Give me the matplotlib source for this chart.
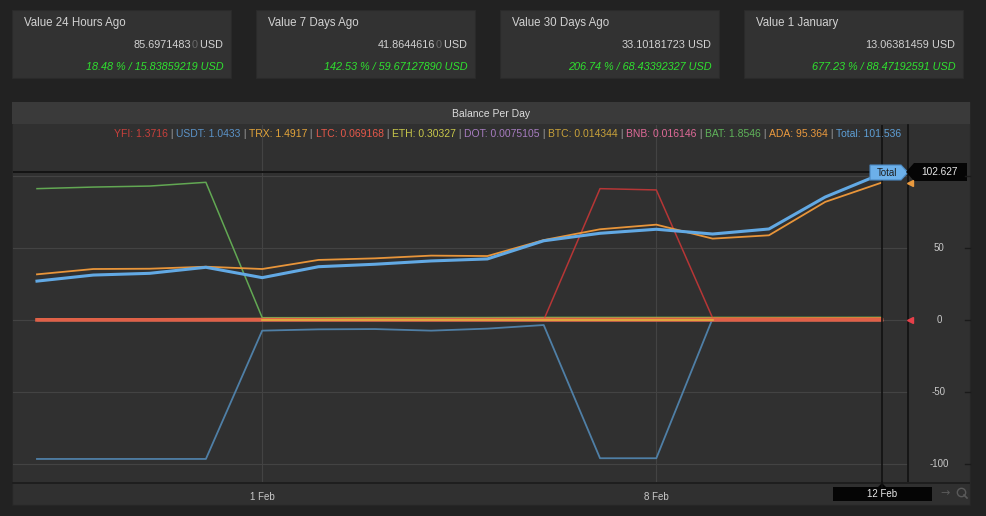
import numpy as np
import matplotlib.pyplot as plt
from matplotlib.patches import Rectangle, Polygon
from matplotlib.transforms import Affine2D, blended_transform_factory

W, H = 987, 516
plt.rcParams['font.family'] = ['Liberation Sans', 'DejaVu Sans']

# ---- data ----
dates = ["28 Jan", "29 Jan", "30 Jan", "31 Jan", "1 Feb", "2 Feb", "3 Feb", "4 Feb",
         "5 Feb", "6 Feb", "7 Feb", "8 Feb", "9 Feb", "10 Feb", "11 Feb", "12 Feb"]
xticks_shown = ["1 Feb", "8 Feb"]
yticks_shown = [-100, -50, 0, 50]   # 100 is hidden under the cursor label

total = [27.0, 31.2, 32.4, 36.6, 29.4, 37.0, 38.7, 41.0, 42.4, 55.0, 60.2, 63.0, 59.7, 63.2, 85.4, 101.536]
ada = [31.7, 35.4, 35.6, 37.0, 35.4, 41.7, 42.8, 44.7, 44.4, 55.5, 63.0, 66.2, 56.5, 58.8, 82.0, 95.364]
bat = [91.2, 92.3, 93.0, 95.6, 1.6, 1.6, 1.7, 1.7, 1.7, 1.8, 1.8, 1.8, 1.8, 1.8, 1.8, 1.8546]
usdt = [-96.5, -96.5, -96.5, -96.5, -7.4, -6.5, -6.3, -7.4, -6.0, -3.5, -96.0, -96.0, 1.04, 1.04, 1.04, 1.0433]
yfi = [0, 0, 0, 0, 0, 0, 0, 0, 0, 0, 91.2, 90.3, 1.37, 1.37, 1.37, 1.3716]
trx = [0.9, 0.9, 0.9, 1.0, 1.1, 1.1, 1.2, 1.2, 1.2, 1.3, 1.3, 1.4, 1.4, 1.4, 1.5, 1.4917]
ltc = [0.07, 0.07, 0.07, 0.07, 0.07, 0.07, 0.07, 0.07, 0.07, 0.07, 0.07, 0.07, 0.07, 0.07, 0.07, 0.069168]
eth = [np.nan, np.nan, np.nan, np.nan, 0.3, 0.3, 0.3, 0.3, 0.3, 0.3, 0.3, 0.3, 0.3, np.nan, np.nan, np.nan]
dot = [0.0075] * 15 + [0.0075105]
btc = [0.0143] * 15 + [0.014344]
bnb = [0.016] * 15 + [0.016146]

legend_names = ["YFI", "USDT", "TRX", "LTC", "ETH", "DOT", "BTC", "BNB", "BAT", "ADA", "Total"]
legend_vals = ["1.3716", "1.0433", "1.4917", "0.069168", "0.30327", "0.0075105",
               "0.014344", "0.016146", "1.8546", "95.364", "101.536"]
colors = {"YFI": "#c9403c", "USDT": "#5b93c8", "TRX": "#e3a43a", "LTC": "#e8584a",
          "ETH": "#c9c84a", "DOT": "#a77cc0", "BTC": "#c9a23a", "BNB": "#e06a98",
          "BAT": "#5fb35a", "ADA": "#eb9a3e", "Total": "#5e9fd6"}

card_titles = ["Value 24 Hours Ago", "Value 7 Days Ago", "Value 30 Days Ago", "Value 1 January"]
card_values = ["85.6971483", "41.8644616", "33.10181723", "13.06381459"]
card_dim = ["0", "0", "", ""]
card_changes = ["18.48 % / 15.83859219 USD", "142.53 % / 59.67127890 USD",
                "206.74 % / 68.43392327 USD", "677.23 % / 88.47192591 USD"]

cursor_value = 102.627
cursor_date = "12 Feb"

# ---- figure ----
fig = plt.figure(figsize=(W / 100, H / 100), dpi=100, facecolor="#222222")
pix = Affine2D().scale(1 / W, -1 / H).translate(0, 1) + fig.transFigure

ax = fig.add_axes([13 / W, 1 - 482 / H, (908 - 13) / W, (482 - 125) / H])


def chain(prev, s, color, size, side, **kw):
    # put text s right after (side=1) or before (side=0) the previous text
    return ax.annotate(s, xy=(side, 0.5), xycoords=prev, color=color, fontsize=size,
                       ha="left" if side else "right", va="center",
                       annotation_clip=False, **kw)


# stat cards
card_left = [12, 256, 500, 744]
for i in range(4):
    x0 = card_left[i]
    fig.add_artist(Rectangle((x0, 10), 219, 68, transform=pix, facecolor="#323232",
                             edgecolor="#2a2a2a", lw=0.8, zorder=-1))
    fig.text(x0 + 12, 23, card_titles[i], transform=pix, color="#d2d2d2", fontsize=8.3,
             va="center", ha="left")
    t = fig.text(x0 + 211, 45, " USD", transform=pix, color="#d2d2d2", fontsize=7.8,
                 va="center", ha="right")
    if card_dim[i]:
        t = chain(t, card_dim[i], "#6a6a6a", 7.8, 0)
    chain(t, card_values[i], "#d2d2d2", 7.8, 0)
    fig.text(x0 + 212, 67, card_changes[i], transform=pix, color="#2fe02f", fontsize=7.8,
             style="italic", va="center", ha="right")

# chart panel
fig.add_artist(Rectangle((12, 102), 958, 403, transform=pix, facecolor="#303030",
                         edgecolor="#262626", lw=1, zorder=-1))
fig.add_artist(Rectangle((12, 102), 958, 22, transform=pix, facecolor="#3a3a3a",
                         edgecolor="none", zorder=-1))
fig.text(491, 114, "Balance Per Day", transform=pix, color="#dcdcdc", fontsize=7.5,
         ha="center", va="center")

ax.set_facecolor("#303030")
x = np.arange(len(dates))

ax.plot(x, usdt, color="#4f7fa6", lw=1.3)
ax.plot(x, bat, color="#62a853", lw=1.1)
ax.plot(x, yfi, color="#b63636", lw=1.1)
ax.plot(x, dot, color=colors["DOT"], lw=1)
ax.plot(x, btc, color=colors["BTC"], lw=1)
ax.plot(x, bnb, color=colors["BNB"], lw=1)
ax.plot(x, trx, color="#e08a3e", lw=1)
ax.plot(x, ltc, color="#e06048", lw=2.6)
ax.plot(x, eth, color="#e2b23a", lw=1.2)
ax.plot(x, ada, color="#e8953a", lw=1.3)
ax.plot(x, total, color="#62a9e4", lw=2.2)

ax.set_xlim(-0.426, 15.47)
ax.set_ylim(-112.5, 135.4)
ax.set_yticks([-100, -50, 0, 50, 100])
ax.set_xticks([dates.index(d) for d in xticks_shown])
ax.tick_params(length=0, labelleft=False, labelbottom=False)
ax.grid(True, color="#434343", lw=0.8)
ax.set_axisbelow(True)
for s in ["left", "top", "bottom"]:
    ax.spines[s].set_visible(False)
ax.spines["right"].set_color("#111111")
ax.spines["right"].set_linewidth(1.2)

# crosshair
ax.axhline(cursor_value, color="#111111", lw=1.3)
ax.axvline(dates.index(cursor_date), color="#111111", lw=1.2)

# bottom axis strip
fig.add_artist(Rectangle((12, 482), 958, 2, transform=pix, facecolor="#1e1e1e", edgecolor="none"))
xfig = blended_transform_factory(ax.transData, pix)
for d in xticks_shown:
    fig.text(dates.index(d), 497, d, transform=xfig, color="#c8c8c8", fontsize=7,
             ha="center", va="center")
fig.add_artist(plt.Line2D([dates.index(cursor_date)] * 2, [482, 487], transform=xfig,
                          color="#111111", lw=1.2))

# right value axis
yfig = blended_transform_factory(pix, ax.transData)
for v in yticks_shown:
    fig.text(939, v, f"{v}", transform=yfig, color="#c8c8c8", fontsize=7,
             ha="center", va="center")
for v in [-100, -50, 0, 50, 100]:
    fig.add_artist(plt.Line2D([965, 970], [v, v], transform=yfig, color="#1a1a1a", lw=1))

# last value markers on the border
fig.add_artist(plt.Line2D([910], [ada[-1]], transform=yfig, marker="<", markersize=5,
                          color="#eb9a3e", lw=0))
fig.add_artist(plt.Line2D([910], [0], transform=yfig, marker="<", markersize=5,
                          color="#e8404a", lw=0))

# legend line with coloured values
pieces = []
for i, n in enumerate(legend_names):
    if i:
        pieces.append((" | ", "#9a9a9a"))
    pieces.append((f"{n}: {legend_vals[i]}", colors[n]))
t = fig.text(114, 134, pieces[0][0], transform=pix, color=pieces[0][1], fontsize=7.45,
             ha="left", va="center")
for s, c in pieces[1:]:
    t = chain(t, s, c, 7.45, 1)

# cursor labels
fig.add_artist(Polygon([(870, 165), (901, 165), (908, 172.5), (901, 180), (870, 180)],
                       transform=pix, facecolor="#6cb0ea", edgecolor="#4a88c0", lw=0.8))
fig.text(887, 173, "Total", transform=pix, color="#1c1c1c", fontsize=7, ha="center",
         va="center")
fig.add_artist(Polygon([(906, 172), (914, 163), (967, 163), (967, 181), (914, 181)],
                       transform=pix, facecolor="#050505", edgecolor="none"))
fig.text(940, 172, f"{cursor_value}", transform=pix, color="#e8e8e8", fontsize=7.3,
         ha="center", va="center")
fig.add_artist(Polygon([(878, 487), (882, 483), (886, 487)], transform=pix,
                       facecolor="#050505", edgecolor="none"))
fig.add_artist(Rectangle((833, 487), 99, 14, transform=pix, facecolor="#050505",
                         edgecolor="none"))
fig.text(882, 494, cursor_date, transform=pix, color="#e8e8e8", fontsize=7,
         ha="center", va="center")

# small nav icons
fig.text(945, 493, "\u2192", transform=pix, color="#5a5a5a", fontsize=8, ha="center",
         va="center", family="DejaVu Sans")
fig.add_artist(plt.Line2D([961], [492], transform=pix, marker="o", markersize=6,
                          markerfacecolor="none", markeredgecolor="#5a5a5a", lw=0))
fig.add_artist(plt.Line2D([964, 967], [495, 498], transform=pix, color="#5a5a5a", lw=1.2))

fig.savefig("out.png", dpi=100, facecolor=fig.get_facecolor())
